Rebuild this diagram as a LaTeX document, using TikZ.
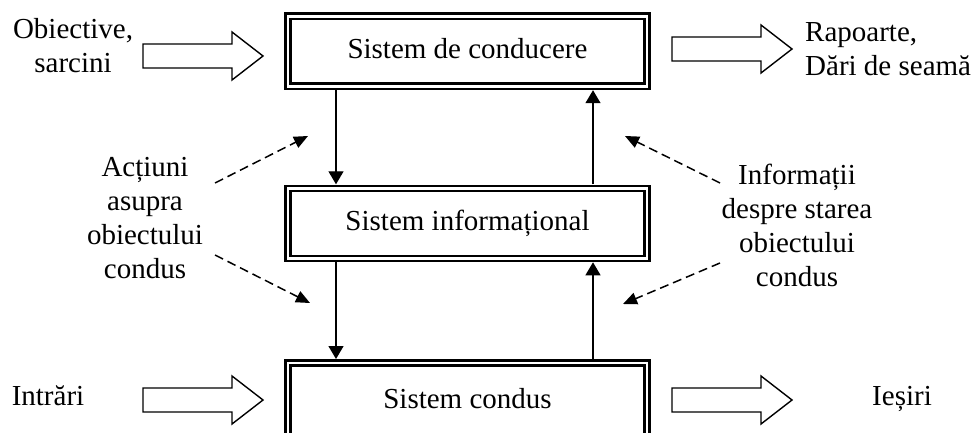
\documentclass[tikz,border=0pt]{standalone}
\usepackage{fontspec}
\setmainfont{Liberation Serif}
\usetikzlibrary{arrows.meta}
\begin{document}
\begin{tikzpicture}[x=1pt,y=-1pt,
  txt/.style={font=\fontsize{29}{34}\selectfont, inner sep=0pt},
  sysbox/.style={draw, double, line width=2.4pt, double distance=2.8pt,
    minimum width=359pt, minimum height=70pt, inner sep=0pt, outer sep=4pt,
    text height=20pt, text depth=6pt, font=\fontsize{29}{34}\selectfont},
  flow/.style={line width=1.3pt, -{Triangle[width=15pt,length=13pt]}},
  dashedarrow/.style={line width=1.5pt, dash pattern=on 9pt off 5pt,
    -{Triangle[width=12pt,length=14pt]}},
  blockarrow/.pic={\draw[line width=1.4pt, line join=miter]
    (0,-12) -- (89,-12) -- (89,-24) -- (120,0) -- (89,24) -- (89,12) -- (0,12) -- cycle;}
]
\useasboundingbox (0,0) rectangle (974,433);
\clip (0,0) rectangle (974,433);

% system boxes
\node[sysbox] (sc) at (467.5,51.2) {Sistem de conducere};
\node[sysbox] (si) at (467.5,223.3) {Sistem informațional};
\node[sysbox, minimum height=76pt] (sd) at (467.5,401) {Sistem condus};

% vertical flows
\coordinate (xl) at (336,0);
\coordinate (xr) at (593,0);
\draw[flow] (sc.south -| xl) -- (si.north -| xl);
\draw[flow] (si.north -| xr) -- (sc.south -| xr);
\draw[flow] (si.south -| xl) -- (sd.north -| xl);
\draw[flow] (sd.north -| xr) -- (si.south -| xr);

% side texts
\node[txt, align=center] (obj) at (73,45.3) {Obiective,\\sarcini};
\node[txt, align=left, anchor=west] (rap) at (805,49) {Rapoarte,\\Dări de seamă};
\node[txt, align=center] (act) at (145,218) {Acțiuni\\asupra\\obiectului\\condus};
\node[txt, align=center] (inf) at (797,225.5) {Informații\\despre starea\\obiectului\\condus};
\node[txt, anchor=base] (intr) at (48,405) {Intrări};
\node[txt, anchor=base] (ies) at (902,405) {Ieșiri};

% block arrows
\pic (inA) at (143,56) {blockarrow};
\pic (outA) at (672,49) {blockarrow};
\pic (inB) at (143,400) {blockarrow};
\pic (outB) at (672,400) {blockarrow};

% dashed arrows
\coordinate (a1s) at (215,183);
\coordinate (a1e) at (308,136);
\coordinate (a2s) at (215,255);
\coordinate (a2e) at (310,303);
\coordinate (b1s) at (720,183);
\coordinate (b1e) at (625,136);
\coordinate (b2s) at (720,263);
\coordinate (b2e) at (623,304);
\draw[dashedarrow] (a1s) -- (a1e);
\draw[dashedarrow] (a2s) -- (a2e);
\draw[dashedarrow] (b1s) -- (b1e);
\draw[dashedarrow] (b2s) -- (b2e);
\end{tikzpicture}
\end{document}
